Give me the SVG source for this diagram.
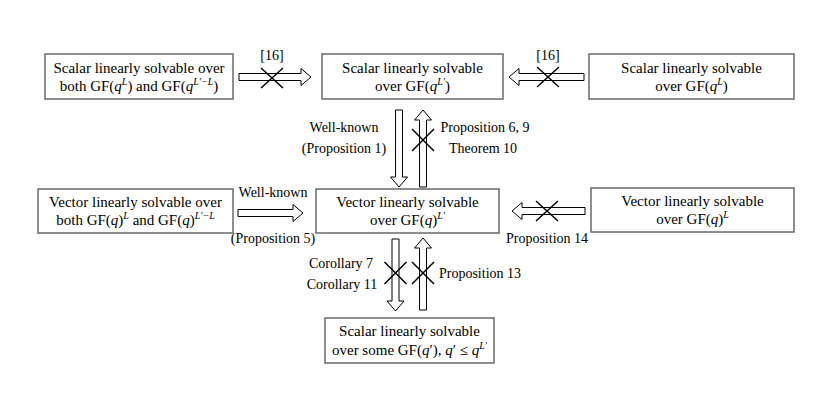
<svg xmlns="http://www.w3.org/2000/svg" width="833" height="403" viewBox="0 0 833 403">
<style>
text{font-family:"Liberation Serif","Times New Roman",serif;fill:#000}
.bt{font-size:15px;text-anchor:middle}
.lb{font-size:14px;text-anchor:middle}
.i{font-style:italic}
.s{font-style:italic;font-size:10px}
.box{fill:#fff;stroke:#6a6a6a;stroke-width:1.5}
.arr{fill:#fff;stroke:#000;stroke-width:1}
.x{stroke:#000;stroke-width:1.5;fill:none}
</style>
<rect width="833" height="403" fill="#fff"/>
<g id="nodeA">
<rect class="box" x="45" y="54" width="188" height="45"/>
<text class="bt" x="139" y="72.5">Scalar linearly solvable over</text>
<text class="bt" x="139" y="90.5">both GF(<tspan class="i">q</tspan><tspan class="s" dy="-6">L</tspan><tspan dy="6">) and GF(</tspan><tspan class="i">q</tspan><tspan class="s" dy="-6">L′−L</tspan><tspan dy="6">)</tspan></text>
</g>
<g id="nodeB">
<rect class="box" x="322" y="54" width="181" height="45"/>
<text class="bt" x="412.5" y="72.5">Scalar linearly solvable</text>
<text class="bt" x="412.5" y="90.5">over GF(<tspan class="i">q</tspan><tspan class="s" dy="-6">L′</tspan><tspan dy="6">)</tspan></text>
</g>
<g id="nodeC">
<rect class="box" x="589" y="54" width="205" height="45"/>
<text class="bt" x="691.5" y="72.5">Scalar linearly solvable</text>
<text class="bt" x="691.5" y="90.5">over GF(<tspan class="i">q</tspan><tspan class="s" dy="-6">L</tspan><tspan dy="6">)</tspan></text>
</g>
<g id="nodeD">
<rect class="box" x="38" y="189" width="195" height="44"/>
<text class="bt" x="135.5" y="207">Vector linearly solvable over</text>
<text class="bt" x="135.5" y="225">both GF(<tspan class="i">q</tspan>)<tspan class="s" dy="-6">L</tspan><tspan dy="6"> and GF(</tspan><tspan class="i">q</tspan>)<tspan class="s" dy="-6">L′−L</tspan></text>
</g>
<g id="nodeE">
<rect class="box" x="316" y="189" width="183" height="44"/>
<text class="bt" x="407.5" y="207">Vector linearly solvable</text>
<text class="bt" x="407.5" y="225">over GF(<tspan class="i">q</tspan>)<tspan class="s" dy="-6">L′</tspan></text>
</g>
<g id="nodeF">
<rect class="box" x="591" y="188" width="203" height="44"/>
<text class="bt" x="692.5" y="206">Vector linearly solvable</text>
<text class="bt" x="692.5" y="224">over GF(<tspan class="i">q</tspan>)<tspan class="s" dy="-6">L</tspan></text>
</g>
<g id="nodeG">
<rect class="box" x="325" y="318" width="169" height="45"/>
<text class="bt" x="409.5" y="336">Scalar linearly solvable</text>
<text class="bt" x="409.5" y="354.5">over some GF(<tspan class="i">q</tspan>′), <tspan class="i">q</tspan>′ ≤  <tspan class="i">q</tspan><tspan class="s" dy="-6">L′</tspan></text>
</g>
<g id="connectors">
<path class="arr" d="M239,73.5 H301 V68.5 L311,77 L301,85.5 V80.5 H239 Z"/>
<path class="x" d="M261,68 L283,88 M283,68 L261,88"/>
<text class="lb" x="272" y="60">[16]</text>
<path class="arr" d="M584,73.5 H519 V68.5 L509,77 L519,85.5 V80.5 H584 Z"/>
<path class="x" d="M537,67 L559,87 M559,67 L537,87"/>
<text class="lb" x="548" y="60">[16]</text>
<path class="arr" d="M238,209.5 H293 V204.5 L303,213 L293,221.5 V216.5 H238 Z"/>
<text class="lb" x="273" y="197">Well-known</text>
<text class="lb" x="273" y="243">(Proposition 5)</text>
<path class="arr" d="M585,207.5 H522 V202.5 L512,211 L522,219.5 V214.5 H585 Z"/>
<path class="x" d="M536,201 L558,221 M558,201 L536,221"/>
<text class="lb" x="547" y="243">Proposition 14</text>
<path class="arr" d="M395.5,110 V177 H390.5 L399,187 L407.5,177 H402.5 V110 Z"/>
<text class="lb" x="344" y="132">Well-known</text>
<text class="lb" x="344" y="153">(Proposition 1)</text>
<path class="arr" d="M419.5,187 V120 H414.5 L423,110 L431.5,120 H426.5 V187 Z"/>
<path class="x" d="M412,129 L434,151 M434,129 L412,151"/>
<text class="lb" x="485" y="132">Proposition 6, 9</text>
<text class="lb" x="483" y="153">Theorem 10</text>
<path class="arr" d="M392,239 V301 H387 L395.5,311 L404,301 H399 V239 Z"/>
<path class="x" d="M384.5,262 L406.5,284 M406.5,262 L384.5,284"/>
<path class="arr" d="M419.5,310 V248 H414.5 L423,238 L431.5,248 H426.5 V310 Z"/>
<path class="x" d="M412,262 L434,284 M434,262 L412,284"/>
<text class="lb" x="341" y="268">Corollary 7</text>
<text class="lb" x="342" y="289">Corollary 11</text>
<text class="lb" x="480" y="278">Proposition 13</text>
</g>
</svg>
